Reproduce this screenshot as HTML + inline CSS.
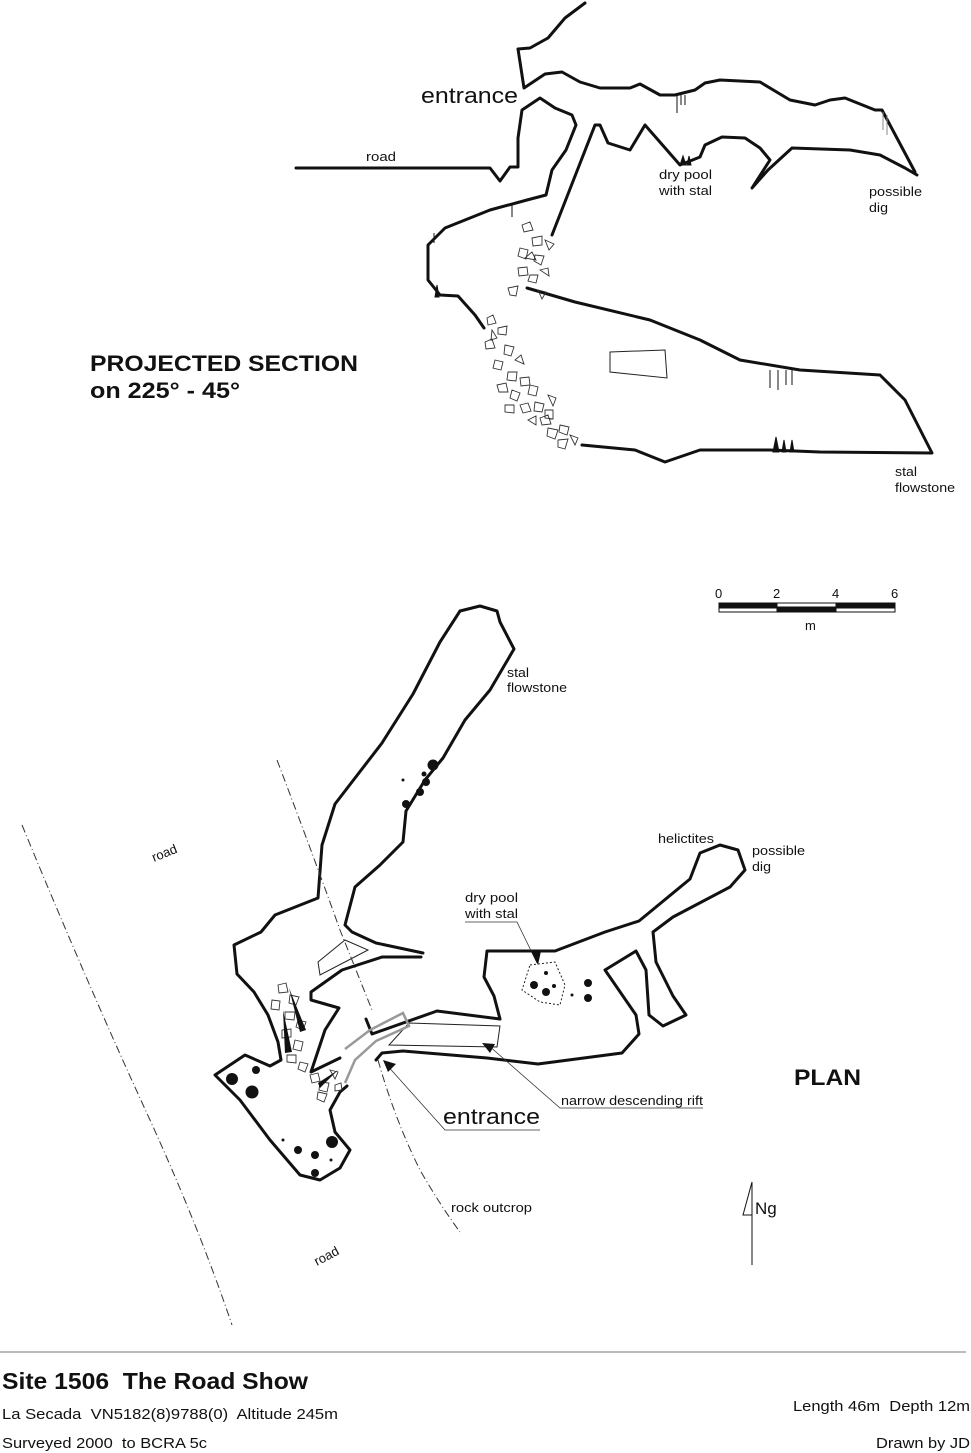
<!DOCTYPE html>
<html><head><meta charset="utf-8"><style>
html,body{margin:0;padding:0;background:#fff}
svg{display:block}
text{font-family:"Liberation Sans",Arial,sans-serif;fill:#111;white-space:pre}
</style></head><body>
<svg width="971" height="1453" viewBox="0 0 971 1453" xmlns="http://www.w3.org/2000/svg">
<g fill="none" stroke="#111" stroke-width="3" stroke-linejoin="round" stroke-linecap="round">
<!-- SECTION -->
<path d="M585,3 L565,18 L548,38 L530,48 L518,49 L524,88 L545,74 L562,72 L580,82 L600,88 L630,88 L640,84 L660,95 L675,95 L695,90 L705,83 L720,80 L760,82 L790,100 L815,105 L830,100 L845,98 L875,110 L882,110 L898,140 L915,172"/>
<path d="M917,175 L905,168 L880,155 L850,150 L792,148 L768,170 L752,188 L770,160 L760,148 L745,138 L722,137 L705,145 L700,157 L680,165 L645,125 L630,150 L608,143 L600,125 L595,125 L552,235"/>
<path d="M296,168 L490,168 L500,181 L510,167 L518,167 L518,138 L522,110 L540,98 L555,108 L572,115 L576,125 L566,150 L552,170 L546,195 L527,200 L490,210 L445,228 L428,245 L428,280 L440,295 L458,296 L475,315 L484,328"/>
<path d="M527,288 L575,302 L650,320 L700,340 L740,360 L800,370 L880,375 L905,400 L932,453 L820,452 L770,450 L700,450 L665,462 L635,450 L582,445"/>
<!-- PLAN long passage -->
<path d="M460,611 L480,606 L497,611 L500,622 L514,649 L490,690 L465,720 L443,758 L425,780 L406,811 L403,842 L380,865 L355,887 L345,925 L352,932 L376,943 L423,953"/>
<path d="M421,957 L382,957 L342,970 L311,992 L311,1000 L339,1008 L325,1030 L311,1072 L340,1058"/>
<path d="M460,611 L440,642 L413,694 L382,743 L335,804 L322,845 L318,898 L275,915 L261,932 L234,945 L237,974 L254,992 L268,1015 L278,1042 L281,1060 L270,1066 L245,1055 L215,1075 L240,1100 L270,1140 L300,1175 L320,1180 L340,1168 L350,1150 L335,1132 L330,1110 L340,1092 L347,1086"/>
<path d="M500,1019 L437,1011 L372,1034 L366,1019"/>
<path d="M376,1060 L382,1053 L403,1051 L487,1058 L538,1064 L622,1053 L639,1034 L636,1015 L605,970 L636,951 L646,970 L649,1015 L663,1026 L686,1015 L673,996 L656,962 L653,932 L673,917 L730,887 L745,870 L738,850 L720,845 L700,853 L690,879 L639,921 L605,932 L555,951 L487,951 L484,977 L494,996 L500,1019"/>
</g>
<path d="M409,1023 L500,1026 L497,1047 L389,1045 Z" fill="none" stroke="#222" stroke-width="1"/>
<path d="M345,1049 L370,1030 L403,1013 L409,1026 L376,1041 L355,1060 L345,1083" fill="none" stroke="#999" stroke-width="2.5"/>
<path d="M610,352 L665,350 L667,378 L610,372 Z" fill="none" stroke="#222" stroke-width="1"/>
<path d="M318,962 L345,940 L368,950 L320,975 Z" fill="none" stroke="#222" stroke-width="1"/>
<path d="M530,965 L555,962 L565,985 L560,1005 L540,1002 L522,990 Z" fill="none" stroke="#222" stroke-width="1" stroke-dasharray="2,2"/>
<g fill="none" stroke="#333" stroke-width="0.9">
<path d="M522,225l8,-3l3,8l-9,2z M532,238l10,-2l0,9l-9,1z M520,248l8,2l-2,9l-8,-3z M535,255l9,1l-3,9l-7,-4z M518,268l9,-1l1,8l-9,1z M530,275l8,0l-2,8l-8,-2z M508,288l10,-2l-2,10l-6,-1z M538,290l8,2l-4,7z M545,240l9,4l-5,6z M525,258l7,-6l4,8z M540,270l8,-2l1,8z"/>
<path d="M487,318l6,-3l3,8l-8,2z M498,328l9,-2l-1,9l-8,-1z M485,342l7,-3l3,9l-9,1z M505,345l9,2l-3,9l-7,-2z M495,360l8,2l-2,8l-8,-2z M508,372l9,0l-1,9l-9,-1z M497,385l9,-2l2,9l-9,0z M512,390l8,3l-3,8l-7,-3z M520,378l9,-1l1,8l-9,1z M530,385l8,2l-2,9l-8,-2z M505,405l9,0l0,8l-9,-1z M520,405l8,-2l3,8l-8,2z M535,402l9,2l-2,8l-8,-1z M540,418l8,-3l3,9l-9,1z M548,395l8,3l-3,8z M548,428l10,2l-3,9l-8,-3z M558,440l10,-1l-3,10l-7,-2z M560,425l9,2l-2,8l-8,-3z M545,410l8,0l0,9l-8,-1z M570,435l8,3l-3,7z M492,330l5,8l-6,2z M515,360l6,-5l3,9z M528,420l8,-4l0,9z"/>
<path d="M278,985l8,-2l2,9l-9,1z M290,995l9,2l-3,8l-7,-2z M272,1000l8,1l-1,9l-8,-1z M285,1012l10,0l-1,8l-9,-1z M298,1020l8,2l-3,8l-7,-3z M282,1030l9,-1l0,8l-9,1z M295,1040l8,2l-2,9l-8,-2z M287,1055l9,0l0,8l-9,-1z M300,1062l8,2l-3,8l-7,-3z M310,1075l8,-2l2,8l-8,2z M320,1082l9,1l-2,9l-8,-2z M330,1070l8,2l-3,7z M318,1092l9,2l-3,8l-7,-3z M335,1085l6,-2l1,7l-7,1z"/>
</g>
<g fill="#111" stroke="#111" stroke-width="1">
<path d="M680,165l3,-9l3,9z M687,165l2,-9l2,9z M435,297l2,-12l2,12z M773,452l3,-15l3,15z M782,452l2,-12l2,12z M790,452l2,-12l2,12z"/>
<path d="M677,95v18 M681,95v10 M685,95v10 M770,370v18 M778,370v20 M786,370v15 M792,370v15 M512,205v12 M434,233v10" fill="none"/>
<path d="M883,112v18 M887,115v20" fill="none" stroke="#888"/>
</g>
<g fill="#111">
<circle cx="433" cy="765" r="5.5"/><circle cx="424" cy="774" r="2.5"/><circle cx="426" cy="782" r="4"/><circle cx="420" cy="792" r="4"/><circle cx="406" cy="804" r="4"/><circle cx="403" cy="780" r="1.5"/>
<circle cx="232" cy="1079" r="6"/><circle cx="252" cy="1092" r="6.5"/><circle cx="256" cy="1070" r="4"/><circle cx="298" cy="1150" r="4"/><circle cx="315" cy="1155" r="4"/><circle cx="332" cy="1142" r="6"/><circle cx="315" cy="1173" r="4"/><circle cx="283" cy="1140" r="1.5"/><circle cx="331" cy="1160" r="1.5"/>
<circle cx="534" cy="985" r="4"/><circle cx="546" cy="992" r="4"/><circle cx="546" cy="973" r="2"/><circle cx="554" cy="986" r="2"/><circle cx="572" cy="995" r="1.5"/><circle cx="588" cy="983" r="4"/><circle cx="588" cy="998" r="4"/>
</g>
<g fill="#111">
<path d="M289,988 L306,1030 L300,1032 Z M283,1010 L292,1052 L285,1053 Z M338,1070 L318,1083 L320,1088 Z"/>
</g>
<g fill="none" stroke="#333" stroke-width="1" stroke-dasharray="8,3,1,3">
<path d="M22,825 Q90,990 150,1120 Q200,1230 232,1325"/>
<path d="M277,760 Q315,860 340,930 Q360,980 372,1010"/>
<path d="M378,1060 Q395,1120 420,1170 Q440,1205 460,1232"/>
</g>
<g fill="none" stroke="#333" stroke-width="0.8">
<path d="M465,922 L517,922 L537,963"/>
<path d="M540,1130 L445,1130 L385,1063"/>
<path d="M703,1108 L560,1108 L488,1045"/>
</g>
<g fill="#111">
<path d="M531,951 L541,951 L538,965 Z"/>
<path d="M383,1060 L396,1064 L388,1072 Z"/>
<path d="M482,1043 L495,1044 L490,1053 Z"/>
</g>
<g stroke="#111" stroke-width="1">
<rect x="719" y="603" width="176" height="9" fill="#fff"/>
<rect x="719" y="603" width="58" height="5" fill="#111"/>
<rect x="777" y="607" width="59" height="5" fill="#111"/>
<rect x="836" y="603" width="59" height="5" fill="#111"/>
</g>
<path d="M752,1182 L752,1265 M752,1182 L743,1215 L752,1215" fill="none" stroke="#111" stroke-width="1"/>
<line x1="0" y1="1352" x2="966" y2="1352" stroke="#777" stroke-width="1"/>
<g lengthAdjust="spacingAndGlyphs">
<text x="421" y="103" font-size="22" textLength="97" lengthAdjust="spacingAndGlyphs">entrance</text>
<text x="366" y="161" font-size="13" textLength="30" lengthAdjust="spacingAndGlyphs">road</text>
<text x="659" y="179" font-size="13" textLength="53" lengthAdjust="spacingAndGlyphs">dry pool</text>
<text x="659" y="195" font-size="13" textLength="53" lengthAdjust="spacingAndGlyphs">with stal</text>
<text x="869" y="196" font-size="13" textLength="53" lengthAdjust="spacingAndGlyphs">possible</text>
<text x="869" y="212" font-size="13" textLength="19" lengthAdjust="spacingAndGlyphs">dig</text>
<text x="895" y="476" font-size="13" textLength="22" lengthAdjust="spacingAndGlyphs">stal</text>
<text x="895" y="492" font-size="13" textLength="60" lengthAdjust="spacingAndGlyphs">flowstone</text>
<text x="90" y="371" font-size="22" font-weight="bold" textLength="268" lengthAdjust="spacingAndGlyphs">PROJECTED SECTION</text>
<text x="90" y="398" font-size="22" font-weight="bold" textLength="150" lengthAdjust="spacingAndGlyphs">on 225° - 45°</text>
<text x="507" y="677" font-size="13" textLength="22" lengthAdjust="spacingAndGlyphs">stal</text>
<text x="507" y="692" font-size="13" textLength="60" lengthAdjust="spacingAndGlyphs">flowstone</text>
<text x="715" y="598" font-size="13">0</text><text x="773" y="598" font-size="13">2</text><text x="832" y="598" font-size="13">4</text><text x="891" y="598" font-size="13">6</text>
<text x="805" y="630" font-size="13">m</text>
<text x="658" y="843" font-size="13" textLength="56" lengthAdjust="spacingAndGlyphs">helictites</text>
<text x="752" y="855" font-size="13" textLength="53" lengthAdjust="spacingAndGlyphs">possible</text>
<text x="752" y="871" font-size="13" textLength="19" lengthAdjust="spacingAndGlyphs">dig</text>
<text x="465" y="902" font-size="13" textLength="53" lengthAdjust="spacingAndGlyphs">dry pool</text>
<text x="465" y="918" font-size="13" textLength="53" lengthAdjust="spacingAndGlyphs">with stal</text>
<text x="154" y="862" font-size="13" transform="rotate(-22 154 862)">road</text>
<text x="317" y="1266" font-size="13" transform="rotate(-28 317 1266)">road</text>
<text x="794" y="1085" font-size="22" font-weight="bold" textLength="67" lengthAdjust="spacingAndGlyphs">PLAN</text>
<text x="561" y="1105" font-size="13" textLength="142" lengthAdjust="spacingAndGlyphs">narrow descending rift</text>
<text x="443" y="1124" font-size="22" textLength="97" lengthAdjust="spacingAndGlyphs">entrance</text>
<text x="451" y="1212" font-size="13" textLength="81" lengthAdjust="spacingAndGlyphs">rock outcrop</text>
<text x="755" y="1214" font-size="17">Ng</text>
<text x="2" y="1389" font-size="23" font-weight="bold" textLength="306" lengthAdjust="spacingAndGlyphs">Site 1506  The Road Show</text>
<text x="2" y="1419" font-size="15" textLength="336" lengthAdjust="spacingAndGlyphs">La Secada  VN5182(8)9788(0)  Altitude 245m</text>
<text x="2" y="1448" font-size="15" textLength="205" lengthAdjust="spacingAndGlyphs">Surveyed 2000  to BCRA 5c</text>
<text x="793" y="1411" font-size="15" textLength="177" lengthAdjust="spacingAndGlyphs">Length 46m  Depth 12m</text>
<text x="876" y="1448" font-size="15" textLength="94" lengthAdjust="spacingAndGlyphs">Drawn by JD</text>
</g>
</svg>
</body></html>
